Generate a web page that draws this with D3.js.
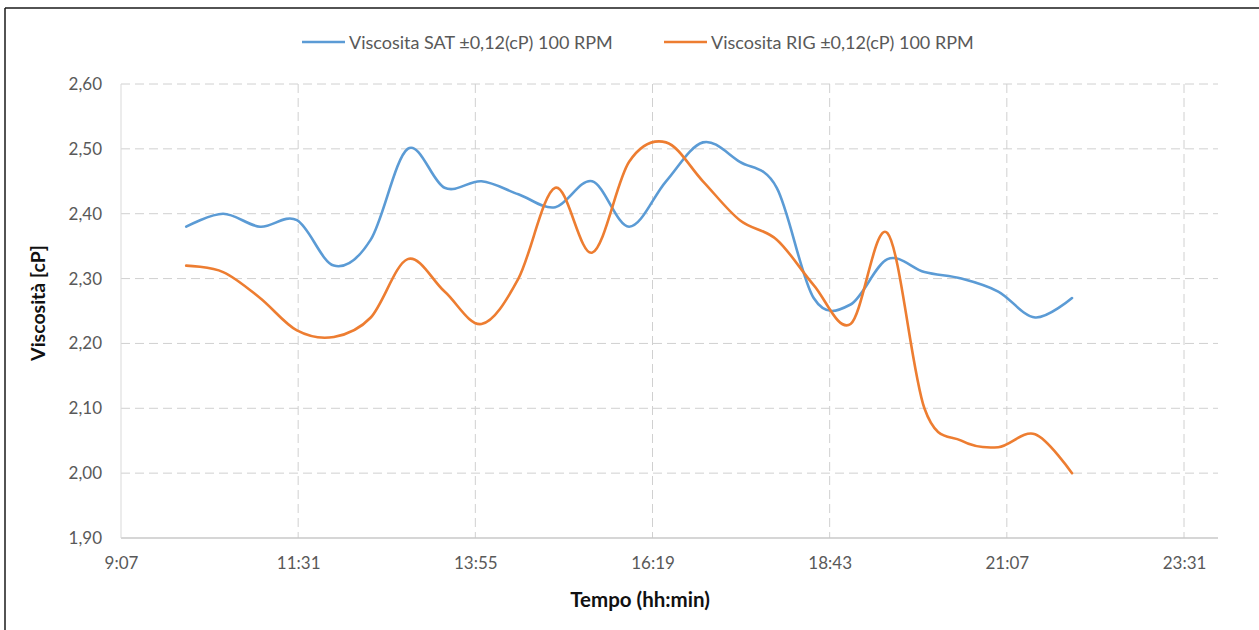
<!DOCTYPE html>
<html>
<head>
<meta charset="utf-8">
<script src="https://cdn.jsdelivr.net/npm/d3@7"></script>
<style>
  html, body { margin: 0; padding: 0; background: #fff; }
  svg { display: block; }
  text { font-family: "Lato", "Open Sans", sans-serif; }
</style>
</head>
<body>
<svg id="chart" width="1259" height="630"></svg>
<script>
// ---- data ----
const times = ["10:00","10:30","11:00","11:30","12:00","12:30","13:00","13:30","14:00","14:30",
               "15:00","15:30","16:00","16:30","17:00","17:30","18:00","18:30","19:00","19:30",
               "20:00","20:30","21:00","21:30","22:00"];
const viscSAT = [2.38, 2.40, 2.38, 2.39, 2.32, 2.36, 2.50, 2.44, 2.45, 2.43,
                 2.41, 2.45, 2.38, 2.45, 2.51, 2.48, 2.44, 2.27, 2.26, 2.33,
                 2.31, 2.30, 2.28, 2.24, 2.27];
const viscRIG = [2.32, 2.31, 2.27, 2.22, 2.21, 2.24, 2.33, 2.28, 2.23, 2.30,
                 2.44, 2.34, 2.48, 2.51, 2.45, 2.39, 2.36, 2.29, 2.23, 2.37,
                 2.10, 2.05, 2.04, 2.06, 2.00];
const xTickLabels = ["9:07","11:31","13:55","16:19","18:43","21:07","23:31"];
const yTickValues = [1.90, 2.00, 2.10, 2.20, 2.30, 2.40, 2.50, 2.60];
const seriesNames = ["Viscosita SAT \u00B10,12(cP) 100 RPM", "Viscosita RIG \u00B10,12(cP) 100 RPM"];
const seriesColors = ["#5B9BD5", "#ED7D31"];
const xTitle = "Tempo (hh:min)";
const yTitle = "Viscosit\u00E0 [cP]";

// ---- helpers ----
const toMin = s => { const [h, m] = s.split(":").map(Number); return h * 60 + m; };

// ---- layout ----
const plot = { left: 121, right: 1218, top: 84, bottom: 538 };
const svg = d3.select("#chart");

// outer frame (top & left visible)
svg.append("line").attr("x1", 5).attr("y1", 8).attr("x2", 1259).attr("y2", 8)
  .attr("stroke", "#1a1a1a").attr("stroke-width", 1.5);
svg.append("line").attr("x1", 5).attr("y1", 8).attr("x2", 5).attr("y2", 630)
  .attr("stroke", "#1a1a1a").attr("stroke-width", 1.5);

const x = d3.scaleLinear()
  .domain([toMin(xTickLabels[0]), toMin(xTickLabels[xTickLabels.length - 1])])
  .range([plot.left, 1184]);
const y = d3.scaleLinear().domain([1.9, 2.6]).range([plot.bottom, plot.top]);

// gridlines
const grid = svg.append("g");
grid.selectAll("line.h").data(yTickValues.slice(1)).join("line")
  .attr("x1", plot.left).attr("x2", plot.right)
  .attr("y1", d => y(d)).attr("y2", d => y(d))
  .attr("stroke", "#D0D0D0").attr("stroke-width", 1).attr("stroke-dasharray", "9,5");
grid.selectAll("line.v").data(xTickLabels.slice(1)).join("line")
  .attr("x1", d => x(toMin(d))).attr("x2", d => x(toMin(d)))
  .attr("y1", plot.top).attr("y2", plot.bottom)
  .attr("stroke", "#D0D0D0").attr("stroke-width", 1).attr("stroke-dasharray", "9,5");

// axes
const xAxis = d3.axisBottom(x)
  .tickValues(xTickLabels.map(toMin))
  .tickFormat((d, i) => xTickLabels[i])
  .tickSize(0).tickPadding(19);
const gx = svg.append("g").attr("transform", `translate(0,${plot.bottom})`).call(xAxis);
gx.select(".domain").remove();
gx.selectAll("text").attr("fill", "#595959").style("font-size", "17px").style("font-family", "Lato");

svg.append("line").attr("x1", plot.left).attr("x2", plot.right)
  .attr("y1", plot.bottom).attr("y2", plot.bottom).attr("stroke", "#C8C8C8").attr("stroke-width", 1.3);
svg.append("line").attr("x1", plot.left).attr("x2", plot.left)
  .attr("y1", plot.top).attr("y2", plot.bottom).attr("stroke", "#D9D9D9").attr("stroke-width", 1);

const yAxis = d3.axisLeft(y)
  .tickValues(yTickValues)
  .tickFormat(d => d3.format(".2f")(d).replace(".", ","))
  .tickSize(0).tickPadding(19);
const gy = svg.append("g").attr("transform", `translate(${plot.left},0)`).call(yAxis);
gy.select(".domain").remove();
gy.selectAll("text").attr("fill", "#595959").style("font-size", "17px").style("font-family", "Lato");

// lines
const line = d3.line()
  .x((d, i) => x(toMin(times[i])))
  .y(d => y(d))
  .curve(d3.curveCardinal.tension(0));
[viscSAT, viscRIG].forEach((s, k) => {
  svg.append("path").datum(s)
    .attr("d", line)
    .attr("fill", "none")
    .attr("stroke", seriesColors[k])
    .attr("stroke-width", 2.6)
    .attr("stroke-linejoin", "round")
    .attr("stroke-linecap", "round");
});

// legend
const legendPos = [{ lx: 302, tx: 349 }, { lx: 664, tx: 711 }];
seriesNames.forEach((name, k) => {
  svg.append("line").attr("x1", legendPos[k].lx).attr("x2", legendPos[k].lx + 43)
    .attr("y1", 42).attr("y2", 42)
    .attr("stroke", seriesColors[k]).attr("stroke-width", 2.6);
  svg.append("text").attr("x", legendPos[k].tx).attr("y", 42)
    .attr("dominant-baseline", "central")
    .attr("fill", "#595959").style("font-size", "18px")
    .text(name);
});

// axis titles
svg.append("text").attr("x", 640).attr("y", 599)
  .attr("text-anchor", "middle").attr("dominant-baseline", "central")
  .attr("fill", "#111").style("font-size", "20.5px").style("font-weight", "bold")
  .text(xTitle);
svg.append("text")
  .attr("transform", "translate(37,303) rotate(-90)")
  .attr("text-anchor", "middle").attr("dominant-baseline", "central")
  .attr("fill", "#111").style("font-size", "19.5px").style("font-weight", "bold")
  .text(yTitle);
</script>
</body>
</html>
